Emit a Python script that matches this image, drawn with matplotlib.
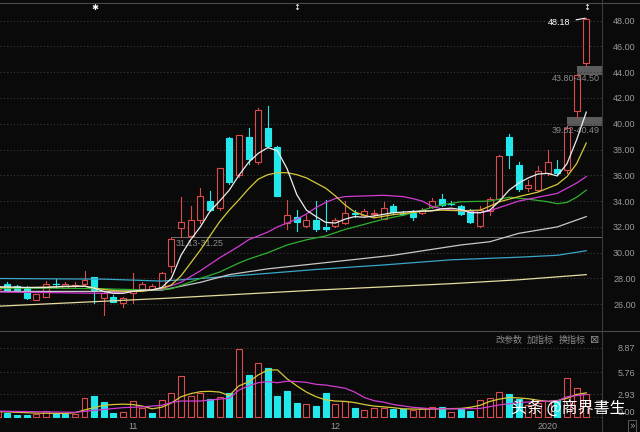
import matplotlib
matplotlib.use("Agg")
from matplotlib import pyplot as plt
from matplotlib.patches import Rectangle
from matplotlib.lines import Line2D
import numpy as np

# свечи, индекс -1 .. 60
opens = [27.2, 27.6, 27.4, 27.3, 26.35, 26.6, 27.6, 27.3, 27.45, 27.55, 28.1,
         26.5, 26.6, 26.1, 26.85, 27.2, 27.2, 27.3, 29.0, 31.95, 31.3,
         32.5, 34.0, 33.5, 38.9, 36.0, 39.0, 37.05, 39.7, 38.2, 32.3,
         32.8, 32.1, 32.5, 32.0, 32.1, 32.3, 33.1, 32.9, 33.0, 32.65,
         33.6, 33.05, 33.05, 33.05, 33.55, 34.15, 33.85, 33.6, 33.3, 32.05,
         33.2, 34.15, 39.0, 36.8, 35.0, 34.85, 36.15, 36.5, 36.4, 40.95, 44.7]
highs = [27.5, 27.7, 27.5, 27.4, 26.8, 27.8, 27.95, 27.75, 27.7, 28.6, 28.15,
         27.0, 26.7, 26.6, 28.4, 27.7, 27.6, 28.5, 31.13, 34.3, 33.6,
         35.0, 34.8, 36.6, 38.95, 39.1, 39.7, 41.2, 41.4, 38.3, 34.1,
         33.3, 32.9, 34.0, 34.1, 32.7, 34.0, 33.3, 33.4, 33.3, 33.9,
         33.8, 33.2, 33.3, 33.5, 34.25, 34.55, 34.0, 33.7, 33.4, 33.6,
         34.3, 37.6, 39.2, 37.0, 35.6, 36.7, 38.0, 37.2, 39.82, 43.8, 48.18]
lows = [27.1, 27.0, 27.0, 26.4, 26.3, 26.55, 27.3, 27.25, 27.3, 27.5, 26.1,
        25.2, 26.2, 25.8, 26.1, 27.1, 27.15, 27.2, 28.5, 31.25, 31.2,
        32.3, 33.2, 33.3, 35.3, 35.9, 36.9, 36.9, 38.2, 34.4, 31.8,
        31.7, 32.0, 31.7, 31.7, 32.0, 32.2, 32.8, 32.8, 32.8, 32.6,
        33.1, 32.9, 32.5, 33.0, 33.5, 33.6, 33.7, 32.9, 32.3, 32.0,
        32.9, 34.1, 36.6, 34.8, 34.8, 34.8, 36.0, 36.1, 36.2, 40.49, 44.5]
closes = [27.4, 27.1, 27.1, 26.45, 26.8, 27.6, 27.55, 27.55, 27.5, 27.9, 27.1,
          26.9, 26.2, 26.5, 27.2, 27.6, 27.4, 28.4, 31.1, 32.35, 32.5,
          34.4, 33.3, 36.6, 35.5, 39.1, 37.3, 41.1, 38.3, 34.4, 32.9,
          32.35, 32.5, 31.8, 31.8, 32.5, 33.1, 33.0, 33.2, 33.1, 33.45,
          33.15, 33.0, 32.75, 33.3, 34.0, 33.7, 33.8, 33.0, 32.4, 33.3,
          34.15, 37.5, 37.6, 34.9, 35.25, 36.3, 37.0, 36.15, 39.7, 43.75, 48.1]

# объём, 1 - красный, 0 - голубой
volumes = [0.8, 0.55, 0.2, 0.3, 0.4, 0.8, 0.55, 0.4, 0.4, 2.5, 2.7,
           1.9, 0.55, 0.65, 2.1, 1.1, 0.55, 2.2, 3.1, 5.3, 2.7,
           3.1, 2.3, 2.6, 3.1, 8.8, 5.4, 7.0, 6.25, 2.75, 3.4,
           1.75, 1.7, 1.4, 3.1, 1.7, 2.05, 1.2, 0.9, 1.1, 1.2,
           1.0, 1.0, 0.9, 1.2, 1.25, 1.25, 0.7, 1.0, 0.75, 2.2,
           2.5, 3.2, 2.9, 2.3, 1.6, 1.8, 2.1, 2.2, 5.0, 3.7, 2.9]
vol_up = [1, 0, 0, 0, 1, 1, 0, 0, 1, 1, 0,
          0, 0, 1, 1, 1, 0, 1, 1, 1, 1,
          1, 0, 1, 0, 1, 0, 1, 0, 0, 0,
          0, 1, 0, 0, 1, 1, 0, 1, 1, 1,
          0, 0, 1, 1, 1, 0, 1, 0, 0, 1,
          1, 1, 0, 0, 1, 1, 1, 0, 1, 1, 1]

# скользящие средние (читаны с картинки)
ma5_k = [-1, 0, 2, 4, 6, 8, 9, 10, 11, 12, 13, 14, 15, 16, 17, 18, 19, 20, 21, 22, 23, 24, 25, 26, 27, 28, 29, 30,
         31, 32, 33, 34, 35, 36, 37, 38, 40, 42, 44, 45, 46, 47, 48, 49, 50, 51, 52, 53, 54, 55, 56, 57, 58, 59, 60]
ma5_v = [27.35, 27.35, 27.3, 27.3, 27.4, 27.4, 27.25, 27.0, 26.85, 26.85, 27.0, 27.1, 27.1, 27.3, 28.0, 29.8, 31.0,
         32.0, 33.2, 34.0, 34.85, 36.0, 37.0, 37.7, 38.15, 37.9, 36.5, 34.5, 33.3, 32.8, 32.35, 32.3, 32.6, 32.8,
         32.75, 32.85, 33.1, 33.2, 33.25, 33.4, 33.45, 33.35, 33.1, 33.1, 33.3, 34.0, 34.85, 35.4, 35.8, 36.1,
         36.15, 35.95, 36.9, 38.75, 40.9]
ma10_k = [-1, 2, 5, 8, 10, 12, 14, 16, 17, 18, 19, 20, 21, 22, 23, 24, 25, 26, 27, 28, 29, 30, 31, 32, 33, 34, 35,
          36, 37, 38, 40, 43, 45, 47, 49, 50, 51, 53, 55, 57, 58, 59, 60]
ma10_v = [27.3, 27.3, 27.35, 27.4, 27.15, 27.0, 27.0, 27.25, 27.5, 28.2, 29.2, 30.2, 31.3, 32.4, 33.3, 34.1, 34.95,
          35.7, 36.05, 36.2, 36.2, 36.05, 35.8, 35.4, 35.0, 34.4, 33.7, 33.15, 32.9, 32.7, 32.95, 33.2, 33.3,
          33.25, 33.3, 33.6, 33.95, 34.35, 34.7, 35.3, 35.9, 36.9, 38.5]
ma20_k = [-1, 5, 10, 13, 16, 18, 20, 22, 24, 25, 27, 28, 29, 30, 31, 32, 33, 34, 35, 37, 39, 41, 42, 43, 44, 45,
          47, 49, 50, 51, 53, 55, 57, 58, 59, 60]
ma20_v = [26.95, 26.9, 26.85, 27.0, 27.2, 27.7, 28.6, 29.6, 30.5, 31.0, 31.6, 32.0, 32.3, 32.6, 33.0, 33.5, 33.9,
          34.2, 34.35, 34.4, 34.45, 34.35, 34.2, 34.0, 33.6, 33.4, 33.25, 33.1, 33.25, 33.5, 34.0, 34.3, 34.6,
          35.0, 35.4, 35.9]
ma30_k = [-1, 5, 10, 15, 17, 20, 22, 24, 25, 27, 29, 31, 33, 35, 37, 39, 41, 43, 45, 47, 50, 52, 54, 56, 57, 58,
          59, 60]
ma30_v = [27.25, 27.25, 27.2, 27.1, 27.2, 28.0, 28.5, 29.2, 29.5, 30.0, 30.6, 31.0, 31.3, 31.8, 32.2, 32.6, 32.9,
          33.3, 33.7, 33.95, 34.0, 34.3, 34.15, 33.95, 33.8, 33.9, 34.3, 34.85]
ma60_k = [-1, 10, 16, 20, 23, 27, 32, 40, 47, 50, 53, 57, 60]
ma60_v = [27.0, 27.0, 27.1, 27.7, 28.3, 28.75, 29.15, 29.8, 30.6, 30.85, 31.5, 32.0, 32.8]
ma120_k = [-1, 10, 16, 20, 27, 32, 39, 46, 53, 57, 60]
ma120_v = [28.0, 27.95, 27.8, 28.0, 28.4, 28.7, 29.05, 29.45, 29.65, 29.8, 30.15]
ma250_k = [-1, 16, 32, 46, 53, 60]
ma250_v = [25.85, 26.45, 27.1, 27.6, 27.9, 28.3]

vma5_k = [-1, 3, 6, 7, 8, 9, 10, 11, 12, 13, 14, 15, 16, 17, 18, 19, 20, 21, 22, 23, 24, 25, 26, 27, 28, 29, 30,
          31, 32, 33, 34, 35, 36, 37, 38, 39, 40, 41, 43, 45, 47, 48, 49, 50, 51, 52, 53, 54, 55, 56, 57, 58,
          59, 60]
vma5_v = [0.7, 0.5, 0.45, 0.55, 0.9, 1.2, 1.5, 1.6, 1.65, 1.6, 1.4, 1.05, 1.25, 1.8, 2.6, 3.0, 3.25, 3.3, 3.2,
          2.75, 4.0, 4.5, 5.4, 6.05, 6.05, 4.9, 4.0, 3.2, 2.6, 2.2, 2.05, 2.0, 1.85, 1.6, 1.4, 1.3, 1.2, 1.05,
          1.0, 1.05, 1.1, 1.25, 1.5, 2.0, 2.3, 2.5, 2.45, 2.35, 2.15, 2.0, 2.1, 2.4, 2.9, 3.1]
vma10_k = [-1, 7, 9, 12, 14, 16, 17, 18, 20, 22, 23, 24, 25, 26, 27, 28, 29, 30, 31, 32, 33, 35, 36, 37, 38, 39,
           40, 42, 44, 47, 49, 51, 53, 55, 57, 58, 60]
vma10_v = [0.75, 0.6, 0.85, 1.2, 1.3, 1.5, 1.85, 2.05, 2.05, 2.3, 2.4, 3.45, 4.0, 4.4, 4.55, 4.4, 4.6, 4.55,
           4.45, 4.2, 4.1, 3.7, 3.2, 2.5, 2.1, 1.9, 1.6, 1.25, 1.05, 1.05, 1.1, 1.55, 1.85, 2.0, 2.05, 2.6, 2.9]

price_ticks = [26, 28, 30, 32, 34, 36, 38, 40, 42, 44, 46, 48]
vol_ticks = [0.0, 2.93, 5.76, 8.87]
date_pos = [13, 34, 56]
date_labels = ["11", "12", "2020"]

bg = "#0a0a0a"
red = "#dc4c4c"
cyan = "#22e8ec"
grey_txt = "#9a9a9a"
font_num = "Liberation Sans"
cjk = ["Noto Sans CJK SC", "DejaVu Sans"]

W, H = 640, 432
fig = plt.figure(figsize=(6.4, 4.32), dpi=100, facecolor=bg)
ax = fig.add_axes([0, 1 - 331 / H, 602 / W, (331 - 4) / H], facecolor=bg)
axv = fig.add_axes([0, 1 - 418 / H, 602 / W, (418 - 331) / H], facecolor=bg)

idx = np.arange(-1, len(opens) - 1)
bw = 0.62

# свечи
for i, o, h, l, c in zip(idx, opens, highs, lows, closes):
    up = c >= o
    col = red if up else cyan
    ax.plot([i, i], [l, h], color=col, lw=0.8, zorder=2)
    lo, hi = min(o, c), max(o, c)
    if hi - lo < 0.06:
        ax.plot([i - bw / 2, i + bw / 2], [c, c], color=col, lw=0.9, zorder=3)
    else:
        ax.add_patch(Rectangle((i - bw / 2, lo), bw, hi - lo, facecolor=bg if up else col,
                               edgecolor=col, lw=0.8, zorder=3))

# средние
ax.plot(ma250_k, ma250_v, color="#e6dca0", lw=0.9, zorder=4)
ax.plot(ma120_k, ma120_v, color="#3aa6c8", lw=0.9, zorder=4)
ax.plot(ma60_k, ma60_v, color="#c8c8c8", lw=0.9, zorder=4)
ax.plot(ma30_k, ma30_v, color="#2fb02f", lw=0.9, zorder=4)
ax.plot(ma20_k, ma20_v, color="#d23cd2", lw=0.9, zorder=4)
ax.plot(ma10_k, ma10_v, color="#d6c83a", lw=0.9, zorder=4)
ax.plot(ma5_k, ma5_v, color="#eeeeee", lw=0.9, zorder=5)

# разрывы
ax.add_patch(Rectangle((58, 39.82), 4, 40.49 - 39.82, facecolor="#5c5c5c", edgecolor="none", zorder=1))
ax.add_patch(Rectangle((59, 43.80), 3, 44.50 - 43.80, facecolor="#5c5c5c", edgecolor="none", zorder=1))
ax.add_patch(Rectangle((17, 31.13), 45, 0.12, facecolor="#6a6a6a", edgecolor="none", zorder=1))
ax.text(61.4, 43.47, "43.80-44.50", color="#8a8a8a", fontsize=6.5, family=font_num, ha="right", va="center")
ax.text(61.4, 39.48, "39.82-40.49", color="#8a8a8a", fontsize=6.5, family=font_num, ha="right", va="center")
ax.text(17.4, 30.75, "31.13-31.25", color="#8a8a8a", fontsize=6.5, family=font_num, ha="left", va="center")
ax.annotate("48.18", xy=(59.9, 48.18), xytext=(57.2, 47.82), color="white", fontsize=6.5, family=font_num,
            ha="center", va="center", arrowprops=dict(arrowstyle="-", color="white", lw=0.8, shrinkA=2, shrinkB=0))

ax.set_xlim(-0.757, 61.63)
ax.set_ylim(23.93, 49.28)
ax.yaxis.tick_right()
ax.set_yticks(price_ticks)
ax.set_yticklabels(["%.2f" % t for t in price_ticks])
ax.tick_params(axis="y", length=0, pad=8, labelsize=6.5, labelcolor=grey_txt)
ax.set_xticks([])
for lab in ax.get_yticklabels():
    lab.set_family(font_num)
ax.grid(axis="y", color="#3a3a3a", linestyle=(0, (1, 2)), lw=0.8)
for s in ax.spines.values():
    s.set_visible(False)

# объём
for i, v, u in zip(idx, volumes, vol_up):
    col = red if u else cyan
    axv.add_patch(Rectangle((i - bw / 2, 0), bw, v, facecolor=bg if u else col, edgecolor=col, lw=0.8, zorder=2))
axv.plot(vma5_k, vma5_v, color="#d6c83a", lw=0.9, zorder=4)
axv.plot(vma10_k, vma10_v, color="#d23cd2", lw=0.9, zorder=4)

axv.set_xlim(-0.757, 61.63)
axv.set_ylim(-0.13, 11.05)
axv.yaxis.tick_right()
axv.set_yticks(vol_ticks)
axv.set_yticklabels(["%.2f" % t for t in vol_ticks])
axv.tick_params(axis="y", length=0, pad=11, labelsize=6.5, labelcolor=grey_txt)
axv.set_xticks(date_pos)
axv.set_xticklabels(date_labels)
axv.tick_params(axis="x", length=0, pad=3, labelsize=6.5, labelcolor=grey_txt)
for lab in axv.get_yticklabels() + axv.get_xticklabels():
    lab.set_family(font_num)
axv.get_yticklabels()[0].set_va("bottom")
axv.grid(axis="y", color="#3a3a3a", linestyle=(0, (1, 2)), lw=0.8)
for s in axv.spines.values():
    s.set_visible(False)

# рамки
fig.add_artist(Line2D([0, 1], [1 - 3 / H, 1 - 3 / H], color="#4a4a4a", lw=0.8))
fig.add_artist(Line2D([0, 1], [1 - 331 / H, 1 - 331 / H], color="#4a4a4a", lw=0.8))
fig.add_artist(Line2D([602 / W, 602 / W], [0, 1], color="#3a3a3a", lw=0.8))

fig.text(95 / W, 1 - 8 / H, "✱", color="white", fontsize=6, ha="center", va="center")
fig.text(297 / W, 1 - 8 / H, "↕", color="white", fontsize=6, ha="center", va="center")
fig.text(587 / W, 1 - 8 / H, "↕", color="white", fontsize=6, ha="center", va="center")

fig.text(495 / W, 1 - 340 / H, "改参数", color="#8a8a8a", fontsize=6.5, family=cjk, va="center")
fig.text(527 / W, 1 - 340 / H, "加指标", color="#8a8a8a", fontsize=6.5, family=cjk, va="center")
fig.text(559 / W, 1 - 340 / H, "换指标", color="#8a8a8a", fontsize=6.5, family=cjk, va="center")
fig.text(595 / W, 1 - 340 / H, "⊠", color="#8a8a8a", fontsize=8, ha="center", va="center")
fig.text(632 / W, 1 - 426 / H, "»", color="#8a8a8a", fontsize=7, ha="center", va="center",
         bbox=dict(boxstyle="square,pad=0.15", facecolor=bg, edgecolor="#5a5a5a", lw=0.7))

fig.text(568 / W, 1 - 409 / H, "头条 @商界書生", color="white", fontsize=11.5, family=cjk, ha="center", va="center")

fig.savefig("out.png", dpi=100, facecolor=bg)
